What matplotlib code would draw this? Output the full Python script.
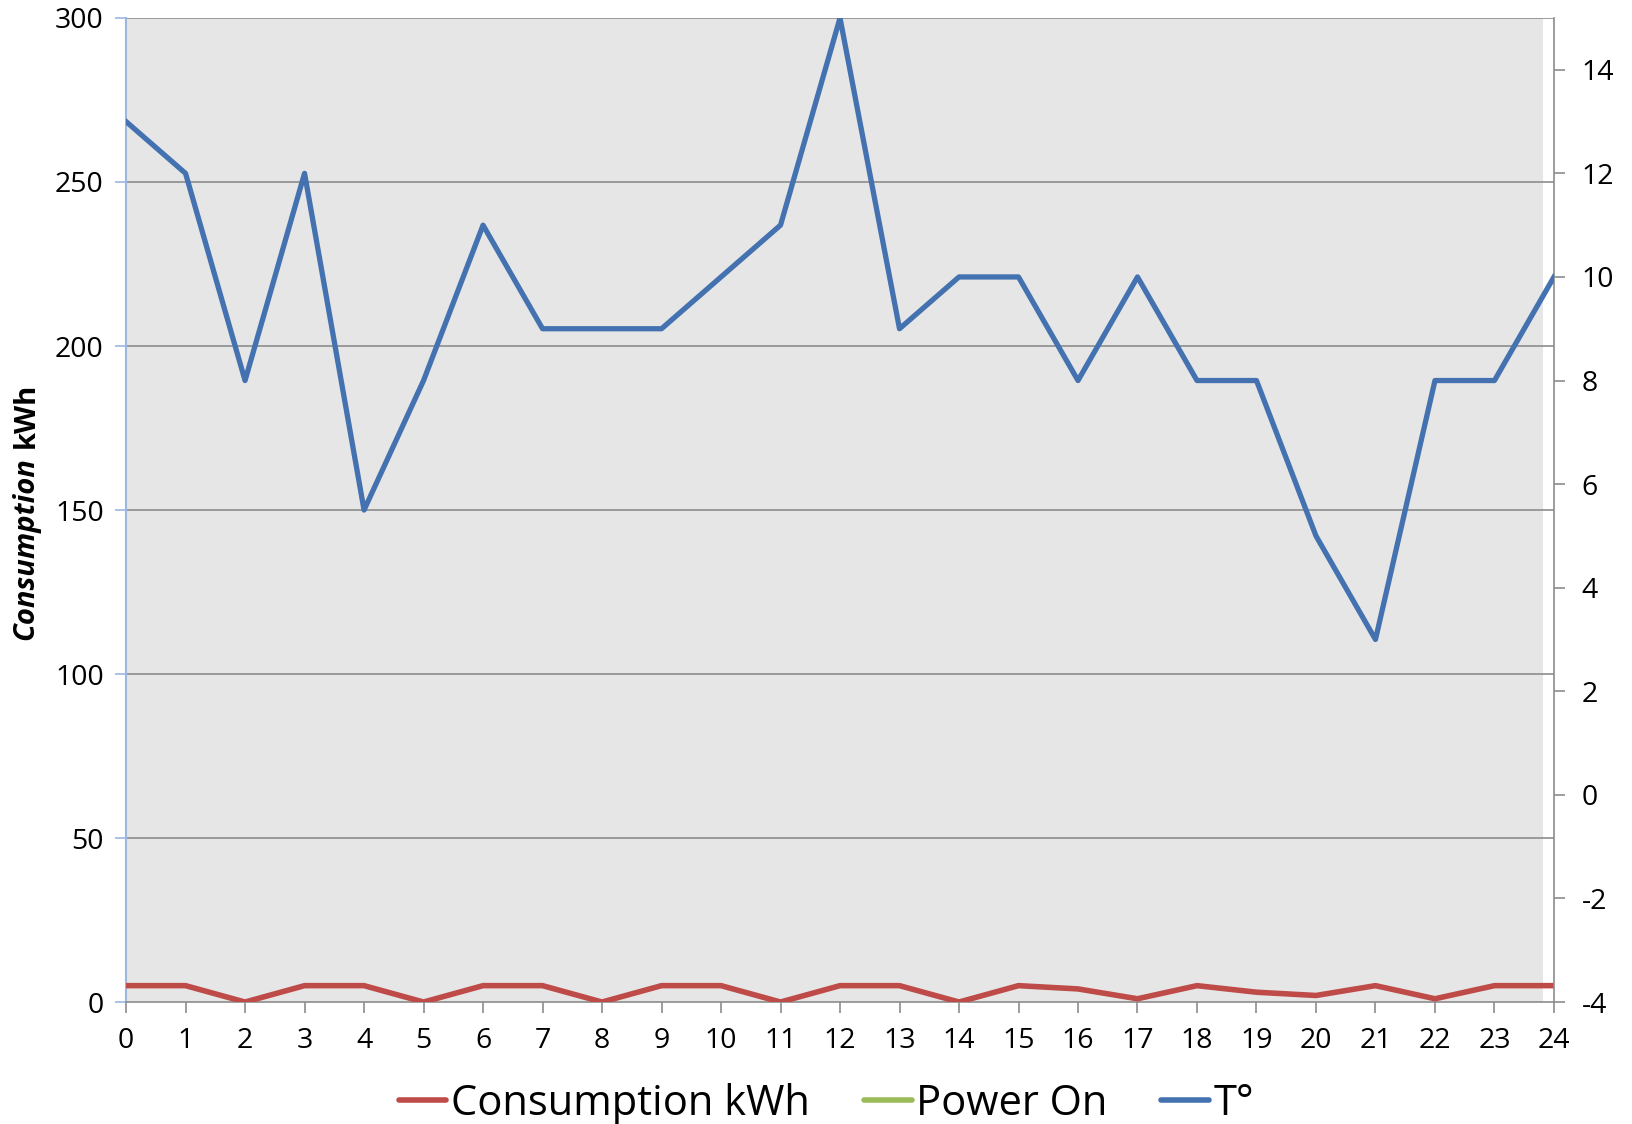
import matplotlib.pyplot as plt
from matplotlib.lines import Line2D

hours = list(range(25))
consumption_kwh = [5, 5, 0, 5, 5, 0, 5, 5, 0, 5, 5, 0, 5, 5, 0, 5, 4, 1, 5, 3, 2, 5, 1, 5, 5]
temperature = [13, 12, 8, 12, 5.5, 8, 11, 9, 9, 9, 10, 11, 15, 9, 10, 10, 8, 10, 8, 8, 5, 3, 8, 8, 10]
left_ticks = [0, 50, 100, 150, 200, 250, 300]
right_ticks = [-4, -2, 0, 2, 4, 6, 8, 10, 12, 14]

RED = '#be4b48'
GREEN = '#9bbb59'
BLUE = '#4472b0'
GRID = '#8c8c8c'

plt.rcParams['font.family'] = ['Open Sans', 'DejaVu Sans']

fig = plt.figure(figsize=(16.33, 11.24), dpi=100)
ax = fig.add_axes([0.0772, 0.1085, 0.8744, 0.8755])
ax.set_facecolor('white')

# grey plot area (stops a bit short of the right axis, like the original)
ax.axvspan(-0.03, 23.82, color='#e6e6e6', zorder=0, lw=0)

ax.set_xlim(0, 24)
ax.set_ylim(0, 300)
ax.set_yticks(left_ticks)
ax.set_xticks(hours)
for y in left_ticks[1:]:
    ax.axhline(y, color=GRID, lw=1.2, zorder=1)

ax.plot(hours, consumption_kwh, color=RED, lw=4, solid_capstyle='round', zorder=3)

for s in ['top', 'right']:
    ax.spines[s].set_visible(False)
ax.spines['bottom'].set_color(GRID)
ax.spines['bottom'].set_linewidth(1.2)
ax.spines['left'].set_color('#9db8e0')
ax.spines['left'].set_linewidth(1.5)
ax.tick_params(axis='x', colors=GRID, labelcolor='black', length=8, width=1.2,
               labelsize=20.5, pad=10)
ax.tick_params(axis='y', colors='#9db8e0', labelcolor='black', length=8, width=1.2,
               labelsize=20.5, pad=8)

ax2 = ax.twinx()
ax2.set_ylim(-4, 15)
ax2.set_yticks(right_ticks)
ax2.set_yticklabels([str(t) for t in right_ticks])
ax2.plot(hours, temperature, color=BLUE, lw=3.8, zorder=4)
for s in ['top', 'left', 'bottom']:
    ax2.spines[s].set_visible(False)
ax2.spines['right'].set_color(GRID)
ax2.spines['right'].set_linewidth(1.2)
ax2.tick_params(axis='y', colors=GRID, labelcolor='black', length=8, width=1.2,
                labelsize=20.5, pad=12)

# y label: "Consumption" bold italic, then "kWh" bold, reading bottom to top
cons = fig.text(0.016, 0.431, 'Consumption', rotation=90, ha='center', va='bottom',
                fontsize=21, fontweight='bold', fontstyle='italic')
ax.annotate('kWh', xy=(0.5, 1.0), xycoords=cons, xytext=(0, 6),
            textcoords='offset points', rotation=90, ha='center', va='bottom',
            fontsize=21, fontweight='bold')

handles = [Line2D([0], [0], color=RED, lw=4, solid_capstyle='round'),
           Line2D([0], [0], color=GREEN, lw=4, solid_capstyle='round'),
           Line2D([0], [0], color=BLUE, lw=4, solid_capstyle='round')]
fig.legend(handles, ['Consumption kWh', 'Power On', 'T°'], loc='center',
           bbox_to_anchor=(0.506, 0.018), ncol=3, frameon=False, fontsize=30,
           handlelength=1.15, handletextpad=0.1, columnspacing=1.3)

fig.savefig('out.png', dpi=100)
